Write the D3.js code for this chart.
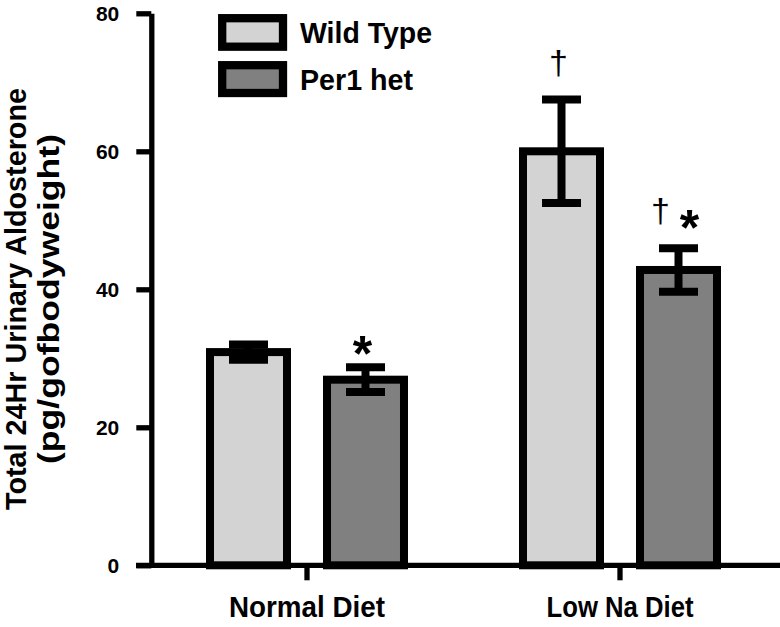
<!DOCTYPE html>
<html>
<head>
<meta charset="utf-8">
<script src="https://cdn.jsdelivr.net/npm/d3@7"></script>
<style>
  html, body { margin: 0; padding: 0; background: #fff; }
  svg { display: block; font-family: "Liberation Sans", Arial, Helvetica, sans-serif; }
</style>
</head>
<body>
<svg id="chart" width="780" height="627"></svg>
<script>
// ---- data ----
const categories = ["Normal Diet", "Low Na Diet"];
const seriesNames = ["Wild Type", "Per1 het"];
const seriesColors = ["#d3d3d3", "#808080"];
const wildTypeMeans = [30.9, 60.0];
const wildTypeErrors = [1.1, 7.5];
const per1HetMeans = [26.9, 42.8];
const per1HetErrors = [1.8, 3.15];
const yTicks = [0, 20, 40, 60, 80];
// significance marks: [category index, series index]
const daggerMarks = [[1, 0], [1, 1]];
const asteriskMarks = [[0, 1], [1, 1]];

const yLabelLine1 = "Total 24Hr Urinary Aldosterone";
const yLabelLine2 = "(pg/gofbodyweight)";

const rows = [];
categories.forEach((c, i) => {
  rows.push({cat: c, ser: seriesNames[0], si: 0, ci: i, mean: wildTypeMeans[i], err: wildTypeErrors[i]});
  rows.push({cat: c, ser: seriesNames[1], si: 1, ci: i, mean: per1HetMeans[i], err: per1HetErrors[i]});
});

const FONT = "'Liberation Sans', Arial, sans-serif";
const svg = d3.select("#chart");

const y = d3.scaleLinear().domain([0, 80]).range([565.3, 13.3]);
const x0 = d3.scaleBand().domain(categories).range([150.5, 776.5]).padding(0);
const x1 = d3.scaleBand().domain(seriesNames).range([39.5, 273.5]).paddingInner(0.342).paddingOuter(0.171);

const AXW = 5.3;

// bars
svg.append("g").selectAll("rect").data(rows).join("rect")
  .attr("x", d => x0(d.cat) + x1(d.ser))
  .attr("width", x1.bandwidth())
  .attr("y", d => y(d.mean))
  .attr("height", d => y(0) - y(d.mean))
  .attr("fill", d => seriesColors[d.si])
  .attr("stroke", "#000")
  .attr("stroke-width", 8);

// x axis
const xAxis = d3.axisBottom(x0).tickSize(15).tickSizeOuter(0);
const gx = svg.append("g").attr("transform", `translate(0,${y(0)})`).call(xAxis);
gx.select(".domain").remove();
gx.append("line").attr("x1", 136).attr("x2", 780).attr("y1", 0).attr("y2", 0)
  .attr("stroke", "#000").attr("stroke-width", AXW);
gx.selectAll(".tick line").attr("stroke", "#000").attr("stroke-width", AXW);
gx.selectAll(".tick text")
  .attr("y", 51.5).attr("dy", 0)
  .attr("fill", "#000")
  .attr("textLength", d => d === categories[0] ? 156 : 147)
  .attr("lengthAdjust", "spacingAndGlyphs")
  .style("font-size", "29px").style("font-weight", "bold")
  .style("font-family", FONT);

// y axis
const yAxis = d3.axisLeft(y).tickValues(yTicks).tickSize(15).tickSizeOuter(0).tickPadding(17);
const gy = svg.append("g").attr("transform", `translate(151.3,0)`).call(yAxis);
gy.select(".domain").attr("stroke", "#000").attr("stroke-width", AXW);
gy.selectAll(".tick line").attr("stroke", "#000").attr("stroke-width", AXW);
gy.selectAll(".tick text")
  .attr("fill", "#000")
  .attr("dy", "0.36em")
  .style("font-size", "21px").style("font-weight", "bold")
  .style("font-family", FONT);

// error bars
const cx = d => x0(d.cat) + x1(d.ser) + x1.bandwidth() / 2;
const capW = 39;
const eb = svg.append("g").attr("stroke", "#000").attr("stroke-width", 8);
eb.selectAll("line.v").data(rows).join("line").attr("class", "v")
  .attr("x1", cx).attr("x2", cx)
  .attr("y1", d => y(d.mean + d.err)).attr("y2", d => y(d.mean - d.err));
eb.selectAll("line.t").data(rows).join("line").attr("class", "t")
  .attr("x1", d => cx(d) - capW / 2).attr("x2", d => cx(d) + capW / 2)
  .attr("y1", d => y(d.mean + d.err)).attr("y2", d => y(d.mean + d.err));
eb.selectAll("line.b").data(rows).join("line").attr("class", "b")
  .attr("x1", d => cx(d) - capW / 2).attr("x2", d => cx(d) + capW / 2)
  .attr("y1", d => y(d.mean - d.err)).attr("y2", d => y(d.mean - d.err));

// significance marks
const rowOf = (ci, si) => rows.find(r => r.ci === ci && r.si === si);
const marks = svg.append("g");
daggerMarks.forEach(([ci, si]) => {
  const r = rowOf(ci, si);
  const hasStar = asteriskMarks.some(m => m[0] === ci && m[1] === si);
  marks.append("text")
    .attr("x", cx(r) + (hasStar ? -18 : -3))
    .attr("y", y(r.mean + r.err) - 26)
    .attr("text-anchor", "middle")
    .style("font-size", "34px")
    .style("font-family", FONT)
    .text("\u2020");
});
asteriskMarks.forEach(([ci, si]) => {
  const r = rowOf(ci, si);
  const hasDagger = daggerMarks.some(m => m[0] === ci && m[1] === si);
  marks.append("text")
    .attr("x", cx(r) + (hasDagger ? 11 : -3))
    .attr("y", y(r.mean + r.err) + (hasDagger ? -3 : 4))
    .attr("text-anchor", "middle")
    .style("font-size", "50px").style("font-weight", "bold")
    .style("font-family", FONT)
    .text("*");
});

// legend
const legend = svg.append("g");
const legRows = [{ty: 18.2, h: 28.5, base: 43}, {ty: 65.2, h: 27.8, base: 89.5}];
const legLen = [132, 113];
seriesNames.forEach((s, i) => {
  legend.append("rect")
    .attr("x", 222.2).attr("y", legRows[i].ty)
    .attr("width", 60.8).attr("height", legRows[i].h)
    .attr("fill", seriesColors[i]).attr("stroke", "#000").attr("stroke-width", 8.3);
  legend.append("text")
    .attr("x", 300).attr("y", legRows[i].base)
    .attr("textLength", legLen[i]).attr("lengthAdjust", "spacingAndGlyphs")
    .style("font-size", "29px").style("font-weight", "bold")
    .text(s);
});

// y label
const yl = svg.append("g").attr("transform", "translate(0,299) rotate(-90)");
yl.append("text").attr("x", 0).attr("y", 26).attr("text-anchor", "middle")
  .attr("textLength", 422).attr("lengthAdjust", "spacingAndGlyphs")
  .style("font-size", "29px").style("font-weight", "bold").text(yLabelLine1);
yl.append("text").attr("x", 0).attr("y", 58.5).attr("text-anchor", "middle")
  .attr("textLength", 330).attr("lengthAdjust", "spacingAndGlyphs")
  .style("font-size", "30px").style("font-weight", "bold").text(yLabelLine2);
</script>
</body>
</html>
